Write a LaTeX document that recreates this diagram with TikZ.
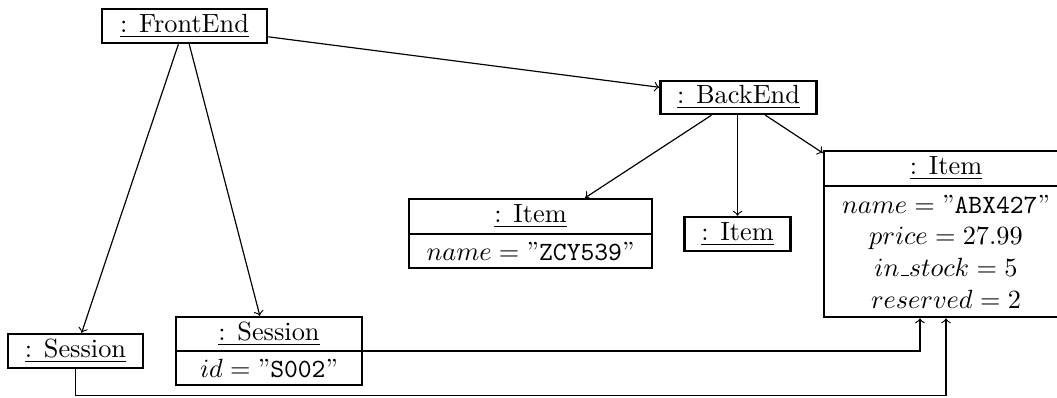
\documentclass[tikz,border=0pt]{standalone}
\usetikzlibrary{calc}
\newcommand{\lowbar}{\mbox{\kern.06em\vbox{\hrule width.3em height 0.6pt}}}
\begin{document}
\begin{tikzpicture}[x=0.38pt,y=-0.38pt,
  obj/.style={draw, line width=0.95pt, inner sep=0pt},
  txt/.style={inner sep=0pt, align=center},
  divider/.style={line width=0.5pt},
  conn/.style={->, >=to, line width=0.45pt}]
\useasboundingbox (0,0) rectangle (1057,397);

% FrontEnd
\node[obj, minimum width=62.7pt, minimum height=12.9pt] (fe) at (184.5,26) {\underline{: FrontEnd}};
% BackEnd
\node[obj, minimum width=59.3pt, minimum height=12.5pt] (be) at (738.5,97.5) {\underline{: BackEnd}};

% Item ZCY539
\node[obj, minimum width=92.3pt, minimum height=26.2pt] (i1) at (530.5,233.5) {};
\node[txt] (i1h) at (530.5,216.5) {\underline{: Item}};
\draw[divider] (i1.west |- 0,234) -- (i1.east |- 0,234);
\node[txt] (i1a) at (530.5,251.5) {$name = \mbox{''\texttt{ZCY539}''}$};

% Item small
\node[obj, minimum width=40.3pt, minimum height=12.9pt] (i2) at (737.5,234) {\underline{: Item}};

% Item ABX427
\node[obj, minimum width=92.7pt, minimum height=63.1pt] (i3) at (946,234) {};
\node[txt] (i3h) at (946,168.5) {\underline{: Item}};
\draw[divider] (i3.west |- 0,186) -- (i3.east |- 0,186);
\node[txt] (i3a) at (946,251.5) {$name = \mbox{''\texttt{ABX427}''}$\\ $price = 27.99$\\ $in\lowbar stock = 5$\\ $reserved = 2$};

% Session left
\node[obj, minimum width=51.3pt, minimum height=12.9pt] (s1) at (75.5,351) {\underline{: Session}};

% Session S002
\node[obj, minimum width=70.7pt, minimum height=25.8pt] (s2) at (269,351) {};
\node[txt] (s2h) at (269,334) {\underline{: Session}};
\draw[divider] (s2.west |- 0,351) -- (s2.east |- 0,351);
\node[txt] (s2a) at (269,368) {$id = \mbox{''\texttt{S002}''}$};

% connectors
\draw[conn] (fe) -- (be);
\draw[conn] (fe) -- (s1);
\draw[conn] (fe) -- (s2);
\draw[conn] (be) -- (i1);
\draw[conn] (be.south -| i2) -- (i2);
\draw[conn] (be) -- (i3);
\draw[conn] (s2.east) -| ([xshift=-9.9pt]i3.south);
\draw[conn] (s1.south) -- (s1.south |- 0,395.5) -| (i3.south);
\end{tikzpicture}
\end{document}
